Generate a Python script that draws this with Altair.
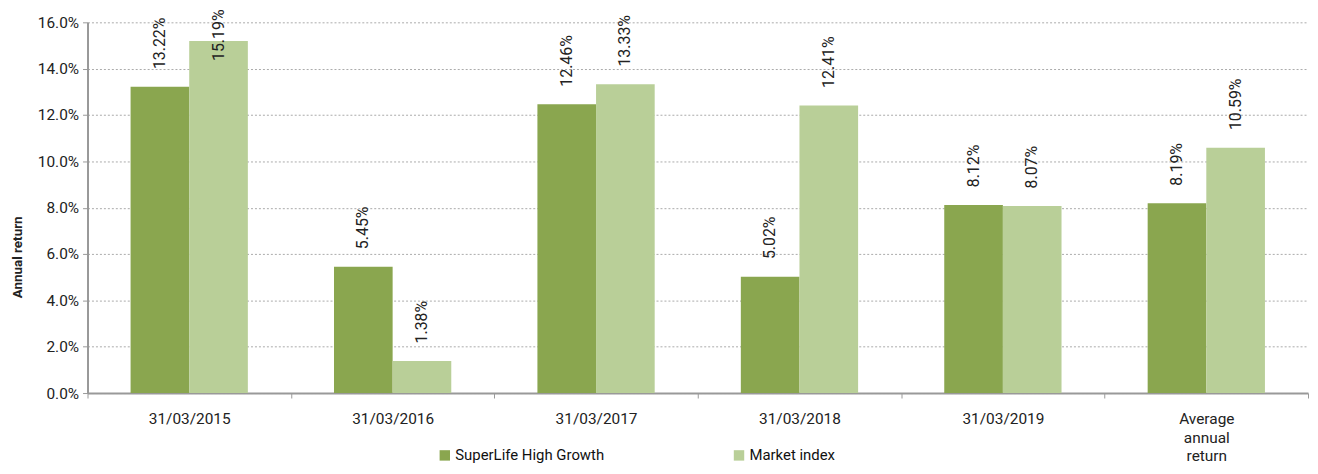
import altair as alt
import pandas as pd

categories = ["31/03/2015", "31/03/2016", "31/03/2017", "31/03/2018", "31/03/2019", "Average annual return"]
superlife = [13.22, 5.45, 12.46, 5.02, 8.12, 8.19]
market = [15.19, 1.38, 13.33, 12.41, 8.07, 10.59]
series = ["SuperLife High Growth", "Market index"]
colors = ["#8AA64F", "#B9CF98"]
y_ticks = [0, 0.02, 0.04, 0.06, 0.08, 0.10, 0.12, 0.14, 0.16]

rows = []
for i, c in enumerate(categories):
    rows.append({"cat": c, "series": series[0], "v": superlife[i] / 100})
    rows.append({"cat": c, "series": series[1], "v": market[i] / 100})
df = pd.DataFrame(rows)

FONT = "Roboto"

x = alt.X("cat:N", sort=categories, title=None,
          scale=alt.Scale(paddingInner=0, paddingOuter=0),
          axis=alt.Axis(labelAngle=0, labelFontSize=15.5, labelFont=FONT, labelColor="#222",
                        labelPadding=14, labelLineHeight=18.5, tickSize=5, tickColor="#999",
                        tickBand="extent", domainColor="#999", domainWidth=2, grid=False,
                        labelExpr="indexof(datum.label, ' ') > 0 ? split(datum.label, ' ') : datum.label"))
xo = alt.XOffset("series:N", sort=series, scale=alt.Scale(paddingInner=0, paddingOuter=0.7345))

bars = alt.Chart(df).mark_bar().encode(
    x=x,
    xOffset=xo,
    y=alt.Y("v:Q", scale=alt.Scale(domain=[0, 0.16], nice=False),
            axis=alt.Axis(format=".1%", values=y_ticks, labelFontSize=15.5, labelFont=FONT,
                          labelColor="#222", tickSize=5, tickColor="#999", domainColor="#999",
                          domainWidth=2, gridDash=[2, 2], gridColor="#AAAAAA", labelPadding=4,
                          title="Annual return", titleFontSize=13.5, titleFont=FONT,
                          titleFontWeight="bold", titleColor="#222", titleAngle=270,
                          titleX=-70, titleY=236, titleAlign="center", titleBaseline="middle")),
    color=alt.Color("series:N", sort=series, scale=alt.Scale(domain=series, range=colors),
                    legend=alt.Legend(title=None, orient="none", legendX=352, legendY=428,
                                      direction="horizontal", symbolType="square", symbolSize=110,
                                      symbolStrokeWidth=0, labelFontSize=15, labelFont=FONT,
                                      labelColor="#111", columnPadding=128, labelOffset=3,
                                      labelLimit=300)),
)

labels = alt.Chart(df).transform_calculate(
    pos="min(datum.v + 0.0076, 0.1433)"
).mark_text(angle=270, align="left", baseline="middle", fontSize=16, font=FONT, color="#222").encode(
    x=x,
    xOffset=xo,
    y=alt.Y("pos:Q"),
    text=alt.Text("v:Q", format=".2%"),
)

chart = alt.layer(bars, labels).properties(
    width=1228, height=373,
    padding={"left": 80, "top": 13, "right": 2, "bottom": 72},
    autosize=alt.AutoSizeParams(type="none"),
).configure_view(stroke=None)

chart.save("out.html", embed_options={"renderer": "svg", "actions": False})
